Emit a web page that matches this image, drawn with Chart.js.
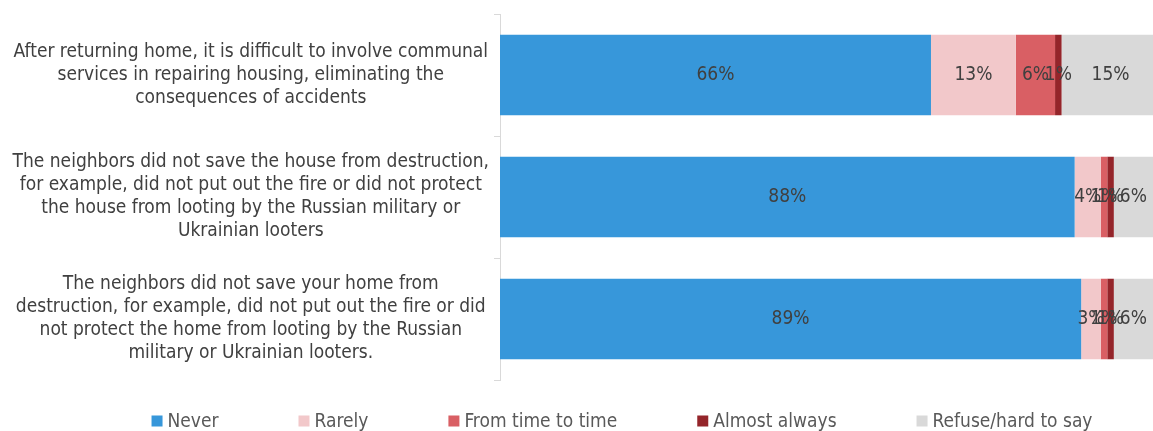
<!DOCTYPE html>
<html>
<head>
<meta charset="utf-8">
<script src="https://cdn.jsdelivr.net/npm/chart.js@4/dist/chart.umd.min.js"></script>
<style>
  html, body { margin: 0; padding: 0; background: #fff; }
  #wrap { width: 1153px; height: 431px; }
</style>
</head>
<body>
<div id="wrap"><canvas id="myChart" width="1153" height="431"></canvas></div>
<script>
var categories = [
    ['After returning home, it is difficult to involve communal', 'services in repairing housing, eliminating the', 'consequences of accidents'],
    ['The neighbors did not save the house from destruction,', 'for example, did not put out the fire or did not protect', 'the house from looting by the Russian military or', 'Ukrainian looters'],
    ['The neighbors did not save your home from', 'destruction, for example, did not put out the fire or did', 'not protect the home from looting by the Russian', 'military or Ukrainian looters.']
];
var seriesNames = ['Never', 'Rarely', 'From time to time', 'Almost always', 'Refuse/hard to say'];
var never = [66, 88, 89];
var rarely = [13, 4, 3];
var fromTimeToTime = [6, 1, 1];
var almostAlways = [1, 1, 1];
var refuse = [15, 6, 6];
var xTicks = [0, 100];

var colors = ['#3797DA', '#F2C8CA', '#D95F64', '#94252A', '#D9D9D9'];
var fontFamily = "'DejaVu Sans Condensed', 'DejaVu Sans', Verdana, sans-serif";
var textColor = '#404040';

// value labels in the middle of every segment
var barLabels = {
    id: 'barLabels',
    afterDatasetsDraw: function(chart) {
        var ctx = chart.ctx;
        ctx.save();
        ctx.font = '19px ' + fontFamily;
        ctx.fillStyle = textColor;
        ctx.textAlign = 'center';
        ctx.textBaseline = 'middle';
        chart.data.datasets.forEach(function(ds, i) {
            var meta = chart.getDatasetMeta(i);
            meta.data.forEach(function(bar, j) {
                var cx = (bar.x + bar.base) / 2;
                ctx.fillText(ds.data[j] + '%', cx, bar.y);
            });
        });
        ctx.restore();
    }
};

// legend row under the plot
var bottomLegend = {
    id: 'bottomLegend',
    afterDraw: function(chart) {
        var ctx = chart.ctx;
        var gap = 80, box = 11, boxGap = 5;
        ctx.save();
        ctx.font = '19px ' + fontFamily;
        ctx.textBaseline = 'middle';
        ctx.textAlign = 'left';
        var widths = chart.data.datasets.map(function(ds) {
            return box + boxGap + ctx.measureText(ds.label).width;
        });
        var total = widths.reduce(function(a, b) { return a + b; }, 0) + gap * (widths.length - 1);
        var x = 622 - total / 2;
        var y = 421;
        chart.data.datasets.forEach(function(ds, i) {
            ctx.fillStyle = ds.backgroundColor;
            ctx.fillRect(x, y - box / 2, box, box);
            ctx.fillStyle = '#595959';
            ctx.fillText(ds.label, x + box + boxGap, y + 1);
            x += widths[i] + gap;
        });
        ctx.restore();
    }
};

var seriesData = [never, rarely, fromTimeToTime, almostAlways, refuse];
var datasets = [];
for (var i = 0; i < seriesNames.length; i++) {
    datasets.push({
        label: seriesNames[i],
        data: seriesData[i],
        backgroundColor: colors[i],
        borderWidth: 0,
        categoryPercentage: 0.66,
        barPercentage: 1
    });
}

var ctx = document.getElementById('myChart').getContext('2d');
var myChart = new Chart(ctx, {
    type: 'bar',
    data: {
        labels: categories,
        datasets: datasets
    },
    options: {
        indexAxis: 'y',
        responsive: false,
        animation: false,
        layout: { padding: { top: 14, bottom: 51, left: 0, right: 0 } },
        plugins: {
            legend: { display: false },
            tooltip: { enabled: false }
        },
        scales: {
            x: {
                stacked: true,
                display: false,
                min: xTicks[0],
                max: xTicks[1]
            },
            y: {
                stacked: true,
                afterFit: function(scale) {
                    scale.width = 500;
                    scale.paddingTop = 0;
                    scale.paddingBottom = 0;
                },
                border: { display: true, color: '#D9D9D9', width: 1 },
                grid: {
                    display: true,
                    drawOnChartArea: false,
                    drawTicks: true,
                    tickLength: 6,
                    color: '#D9D9D9'
                },
                ticks: {
                    crossAlign: 'center',
                    padding: 5,
                    color: textColor,
                    font: { family: fontFamily, size: 19, lineHeight: 1.21 }
                }
            }
        }
    },
    plugins: [barLabels, bottomLegend]
});
</script>
</body>
</html>
